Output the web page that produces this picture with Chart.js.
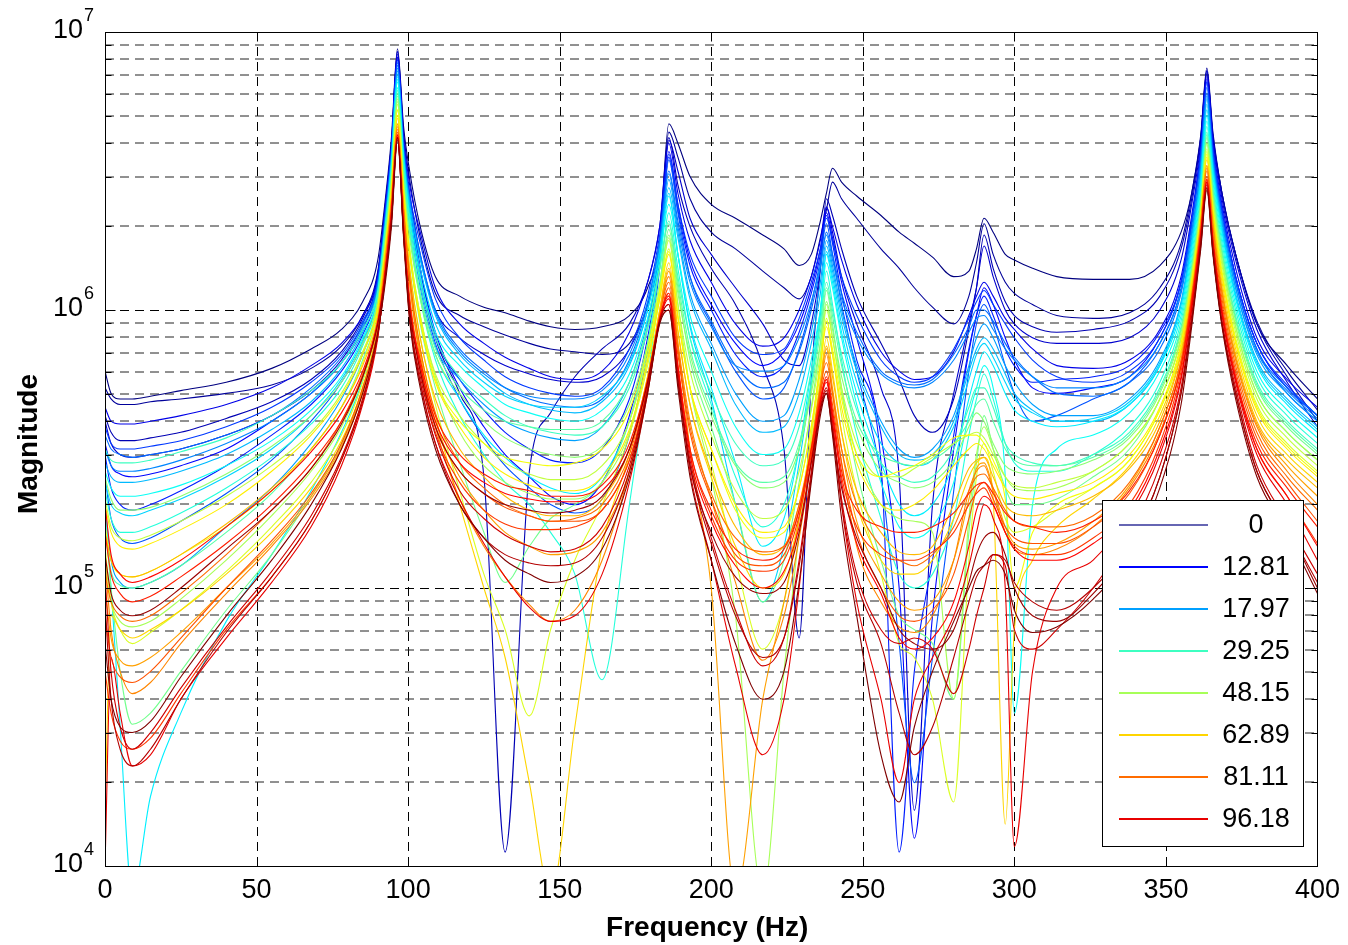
<!DOCTYPE html>
<html>
<head>
<meta charset="utf-8">
<script src="https://cdn.jsdelivr.net/npm/chart.js@4.4.1/dist/chart.umd.min.js"></script>
<style>
html,body{margin:0;padding:0;background:#fff;}
#wrap{position:relative;width:1348px;height:945px;}
</style>
</head>
<body>
<div id="wrap"><canvas id="c" width="1348" height="945"></canvas></div>
<script>
// ---------------- data ----------------
const freqHz = [0,2,5,9,15,25,40,55,68,78,85,90,
  92.5,94.5,96.5,98.5,100.5,104,109,
  117,125,132,140,147,155,164,173,179,183,
  186,189,193,200,
  208,217,224,229,233,236,
  238,240,243,248,256,
  262,267,273,280,285,287.5,
  290,293,297,300,306,
  314,326,338,348,355,358.5,361.5,
  363.5,365.5,368.5,373,380,390,400];

const xTickValues = [0,50,100,150,200,250,300,350,400];
const yDecadeExponents = [4,5,6,7];
const legendLabels = ['0','12.81','17.97','29.25','48.15','62.89','81.11','96.18'];
const legendCurveIndex = [0,5,11,17,21,26,30,35];

const log10Mag00 = [5.78,5.70,5.68,5.68,5.69,5.71,5.74,5.79,5.86,5.93,6.03,6.18, 6.40,6.62,6.94,6.66,6.50,6.30,6.12, 6.05,6.01,5.99,5.96,5.94,5.93,5.94,5.98,6.08,6.25, 6.67,6.60,6.48,6.38, 6.33,6.27,6.22,6.16,6.20,6.32, 6.42,6.51,6.46,6.41,6.34, 6.28,6.24,6.19,6.12,6.14,6.22, 6.33,6.28,6.20,6.18,6.15, 6.12,6.11,6.11,6.16,6.28,6.42,6.62, 6.85,6.62,6.42,6.20,5.95,5.80,5.68];
const log10Mag01 = [5.72,5.68,5.66,5.66,5.67,5.68,5.70,5.73,5.79,5.87,5.98,6.14, 6.38,6.60,6.93,6.64,6.47,6.26,6.06, 5.98,5.94,5.91,5.88,5.86,5.85,5.84,5.88,6.02,6.22, 6.64,6.55,6.40,6.28, 6.22,6.14,6.08,6.04,6.12,6.26, 6.36,6.46,6.40,6.33,6.22, 6.15,6.08,6.01,5.95,6.05,6.17, 6.31,6.20,6.10,6.06,6.02, 5.98,5.97,5.99,6.08,6.24,6.42,6.63, 6.87,6.64,6.42,6.20,5.96,5.78,5.64];
const log10Mag02 = [5.62,5.56,5.53,5.53,5.54,5.56,5.61,5.67,5.75,5.85,5.97,6.13, 6.37,6.58,6.92,6.60,6.40,6.15,5.90, 5.70,5.40,4.05,5.42,5.63,5.76,5.86,5.95,6.10,6.30, 6.62,6.45,6.30,6.15, 6.02,5.80,5.50,4.82,5.75,6.15, 6.40,6.34,6.22,6.05,5.88, 5.75,5.62,5.56,5.68,5.93,6.08, 6.27,6.15,6.03,5.98,5.94, 5.92,5.93,5.96,6.05,6.22,6.40,6.62, 6.86,6.63,6.42,6.20,5.95,5.76,5.60];
const log10Mag03 = [5.60,5.52,5.48,5.47,5.48,5.50,5.55,5.62,5.71,5.82,5.95,6.12, 6.36,6.58,6.91,6.60,6.42,6.20,6.00, 5.90,5.84,5.80,5.77,5.75,5.74,5.76,5.86,6.02,6.22, 6.61,6.50,6.33,6.20, 6.08,5.95,5.82,5.80,5.95,6.15, 6.37,6.28,6.12,5.95,5.72, 5.40,4.20,5.30,5.70,5.95,6.08, 6.23,6.12,6.00,5.95,5.90, 5.88,5.88,5.90,6.00,6.18,6.38,6.60, 6.86,6.62,6.40,6.18,5.93,5.74,5.58];
const log10Mag04 = [5.65,5.60,5.59,5.59,5.60,5.62,5.66,5.72,5.80,5.88,5.98,6.13, 6.38,6.60,6.93,6.62,6.45,6.28,6.08, 5.95,5.88,5.83,5.79,5.76,5.75,5.78,5.92,6.10,6.30, 6.60,6.42,6.25,6.10, 5.95,5.87,5.90,6.00,6.12,6.25, 6.37,6.30,6.18,6.02,5.85, 5.78,5.75,5.76,5.85,5.98,6.05, 6.10,6.05,5.97,5.93,5.86, 5.80,5.79,5.82,5.93,6.12,6.34,6.58, 6.84,6.60,6.38,6.15,5.90,5.75,5.65];
const log10Mag05 = [5.52,5.44,5.41,5.40,5.41,5.44,5.50,5.60,5.70,5.81,5.93,6.10, 6.35,6.57,6.91,6.58,6.38,6.15,5.92, 5.72,5.58,5.48,5.40,5.33,5.30,5.38,5.62,5.90,6.18, 6.57,6.38,6.18,6.02, 5.88,5.80,5.85,5.95,6.08,6.22, 6.35,6.26,6.10,5.90,5.55, 5.00,4.10,4.90,5.50,5.85,5.98, 6.08,6.02,5.90,5.82,5.72, 5.70,5.72,5.76,5.90,6.10,6.32,6.57, 6.83,6.58,6.36,6.12,5.88,5.72,5.62];
const log10Mag06 = [5.48,5.36,5.30,5.28,5.30,5.35,5.44,5.55,5.66,5.78,5.91,6.08, 6.33,6.56,6.90,6.57,6.36,6.12,5.90, 5.75,5.64,5.56,5.50,5.46,5.45,5.50,5.68,5.94,6.20, 6.55,6.36,6.16,6.00, 5.84,5.76,5.80,5.92,6.06,6.20, 6.34,6.24,6.06,5.82,5.45, 4.05,4.70,5.10,5.55,5.86,5.98, 6.05,5.98,5.86,5.80,5.74, 5.75,5.76,5.80,5.92,6.10,6.32,6.57, 6.82,6.58,6.36,6.12,5.88,5.72,5.62];
const log10Mag07 = [5.58,5.52,5.50,5.50,5.51,5.53,5.58,5.65,5.74,5.84,5.96,6.11, 6.36,6.58,6.90,6.60,6.42,6.24,6.04, 5.90,5.82,5.76,5.72,5.70,5.69,5.72,5.86,6.05,6.27, 6.56,6.38,6.20,6.05, 5.90,5.84,5.86,5.97,6.10,6.22, 6.33,6.25,6.12,5.98,5.82, 5.76,5.74,5.76,5.86,5.97,6.03, 6.07,6.02,5.95,5.90,5.82, 5.76,5.74,5.78,5.90,6.10,6.32,6.56, 6.82,6.58,6.36,6.12,5.88,5.73,5.62];
const log10Mag08 = [5.40,5.25,5.18,5.16,5.18,5.24,5.34,5.46,5.60,5.74,5.88,6.06, 6.32,6.55,6.89,6.56,6.35,6.10,5.88, 5.68,5.54,5.44,5.36,5.30,5.27,5.32,5.55,5.85,6.15, 6.54,6.35,6.12,5.95, 5.78,5.68,5.72,5.86,6.02,6.18, 6.31,6.20,6.02,5.78,5.40, 4.80,4.30,4.75,5.35,5.78,5.95, 6.02,5.95,5.80,5.70,5.60, 5.62,5.68,5.74,5.88,6.08,6.30,6.55, 6.80,6.56,6.34,6.10,5.86,5.70,5.60];
const log10Mag09 = [5.55,5.50,5.48,5.47,5.48,5.50,5.55,5.62,5.72,5.83,5.95,6.10, 6.34,6.56,6.88,6.58,6.40,6.20,6.00, 5.86,5.78,5.72,5.68,5.66,5.65,5.68,5.82,6.02,6.25, 6.50,6.32,6.12,5.96, 5.80,5.72,5.74,5.85,6.00,6.15, 6.28,6.20,6.06,5.92,5.78, 5.74,5.73,5.75,5.84,5.94,6.00, 6.00,5.96,5.88,5.83,5.76, 5.70,5.69,5.74,5.86,6.06,6.28,6.52, 6.78,6.55,6.33,6.10,5.86,5.72,5.62];
const log10Mag10 = [5.50,5.44,5.42,5.42,5.43,5.46,5.52,5.60,5.70,5.81,5.94,6.09, 6.33,6.55,6.87,6.57,6.39,6.19,5.99, 5.85,5.77,5.72,5.69,5.68,5.68,5.71,5.84,6.03,6.24, 6.49,6.30,6.10,5.94, 5.80,5.78,5.80,5.90,6.03,6.16, 6.27,6.18,6.04,5.90,5.77, 5.73,5.72,5.74,5.82,5.92,5.97, 5.98,5.93,5.86,5.82,5.76, 5.72,5.72,5.76,5.88,6.07,6.28,6.52, 6.77,6.54,6.32,6.08,5.85,5.71,5.61];
const log10Mag11 = [5.30,5.10,5.02,5.00,5.02,5.08,5.22,5.36,5.52,5.68,5.84,6.03, 6.30,6.52,6.86,6.54,6.33,6.08,5.87, 5.75,5.66,5.60,5.56,5.54,5.53,5.58,5.74,5.96,6.20, 6.47,6.28,6.06,5.88, 5.70,5.60,5.62,5.75,5.92,6.10, 6.25,6.16,6.00,5.80,5.60, 5.50,5.47,5.50,5.62,5.80,5.90, 5.95,5.90,5.80,5.74,5.66, 5.62,5.62,5.68,5.82,6.03,6.26,6.50, 6.76,6.53,6.32,6.08,5.84,5.70,5.60];
const log10Mag12 = [5.45,5.40,5.38,5.38,5.39,5.42,5.48,5.57,5.67,5.79,5.92,6.08, 6.32,6.54,6.85,6.56,6.38,6.18,5.98, 5.84,5.76,5.70,5.66,5.64,5.63,5.67,5.80,6.00,6.22, 6.44,6.26,6.04,5.86, 5.66,5.56,5.58,5.70,5.88,6.06, 6.23,6.14,5.98,5.78,5.58, 5.48,5.46,5.48,5.60,5.78,5.86, 5.90,5.86,5.77,5.70,5.64, 5.60,5.60,5.66,5.80,6.02,6.24,6.48, 6.74,6.52,6.30,6.06,5.82,5.68,5.58];
const log10Mag13 = [5.38,5.30,5.27,5.26,5.28,5.32,5.40,5.50,5.62,5.75,5.89,6.06, 6.31,6.53,6.84,6.55,6.36,6.15,5.95, 5.82,5.74,5.69,5.66,5.65,5.65,5.69,5.81,6.00,6.21, 6.42,6.20,5.94,5.68, 5.30,4.95,5.15,5.45,5.74,5.98, 6.21,6.12,5.95,5.74,5.52, 5.45,5.44,5.46,5.58,5.75,5.84, 5.88,5.83,5.74,5.68,5.63, 5.60,5.61,5.67,5.81,6.02,6.24,6.48, 6.72,6.51,6.29,6.05,5.81,5.67,5.57];
const log10Mag14 = [5.30,5.00,4.50,3.90,4.25,4.55,4.88,5.12,5.35,5.56,5.75,5.98, 6.26,6.50,6.83,6.52,6.30,6.05,5.84, 5.68,5.55,5.47,5.40,5.36,5.34,5.40,5.60,5.88,6.16, 6.41,6.20,5.95,5.72, 5.45,5.15,5.25,5.50,5.78,6.00, 6.20,6.10,5.92,5.70,5.45, 5.30,5.26,5.30,5.45,5.68,5.78, 5.85,5.80,5.70,5.64,5.60, 5.58,5.60,5.66,5.80,6.00,6.22,6.46, 6.70,6.50,6.28,6.04,5.80,5.66,5.56];
const log10Mag15 = [5.42,5.36,5.33,5.33,5.34,5.37,5.44,5.53,5.64,5.76,5.90,6.06, 6.30,6.52,6.82,6.54,6.34,6.12,5.92, 5.80,5.72,5.66,5.63,5.61,5.60,5.64,5.77,5.97,6.18, 6.38,6.20,5.98,5.78, 5.58,5.48,5.50,5.63,5.82,6.00, 6.17,6.08,5.90,5.66,5.38, 5.22,5.18,5.22,5.38,5.62,5.72, 5.80,5.72,5.40,4.55,5.30, 5.50,5.55,5.63,5.78,5.98,6.20,6.44, 6.68,6.48,6.26,6.02,5.78,5.64,5.54];
const log10Mag16 = [5.35,5.25,5.20,5.20,5.22,5.27,5.36,5.47,5.59,5.72,5.87,6.04, 6.28,6.50,6.80,6.50,6.28,6.04,5.82, 5.62,5.48,5.38,5.30,5.20,5.05,4.67,5.30,5.75,6.08, 6.35,6.15,5.90,5.66, 5.40,5.22,5.30,5.50,5.74,5.95, 6.14,6.02,5.82,5.55,5.25, 5.05,5.00,5.05,5.25,5.55,5.68, 5.77,5.68,5.52,5.45,5.42, 5.42,5.48,5.58,5.74,5.96,6.18,6.42, 6.66,6.46,6.24,6.00,5.76,5.62,5.52];
const log10Mag17 = [5.50,5.46,5.45,5.45,5.46,5.49,5.54,5.62,5.71,5.81,5.93,6.07, 6.30,6.50,6.79,6.52,6.32,6.10,5.90, 5.76,5.68,5.62,5.58,5.56,5.55,5.58,5.72,5.93,6.15, 6.32,6.12,5.90,5.70, 5.52,5.44,5.46,5.58,5.78,5.96, 6.10,6.00,5.84,5.64,5.45, 5.40,5.38,5.40,5.50,5.65,5.72, 5.72,5.65,5.52,5.48,5.45, 5.44,5.48,5.56,5.72,5.94,6.16,6.40, 6.64,6.44,6.22,5.98,5.74,5.60,5.50];
const log10Mag18 = [5.20,5.06,5.01,5.00,5.02,5.08,5.20,5.34,5.50,5.65,5.82,6.01, 6.27,6.48,6.78,6.48,6.28,6.06,5.86, 5.72,5.64,5.60,5.58,5.57,5.57,5.60,5.74,5.94,6.15, 6.31,6.10,5.86,5.64, 5.45,5.38,5.40,5.52,5.72,5.92, 6.08,5.98,5.80,5.60,5.48, 5.45,5.44,5.46,5.52,5.60,5.66, 5.68,5.60,5.50,5.46,5.44, 5.44,5.47,5.55,5.71,5.93,6.15,6.39, 6.63,6.43,6.21,5.97,5.73,5.59,5.49];
const log10Mag19 = [5.25,5.00,4.70,4.51,4.55,4.70,4.92,5.12,5.33,5.52,5.72,5.95, 6.22,6.46,6.77,6.45,6.20,5.95,5.72, 5.45,5.20,5.02,5.15,5.25,5.30,5.38,5.60,5.86,6.08, 6.29,6.08,5.82,5.58, 5.30,4.95,5.10,5.38,5.65,5.88, 6.07,5.95,5.72,5.42,5.10, 4.90,4.85,4.80,4.60,5.20,5.45, 5.62,5.50,5.36,5.30,5.30, 5.32,5.40,5.50,5.68,5.90,6.12,6.36, 6.62,6.42,6.20,5.96,5.72,5.58,5.48];
const log10Mag20 = [5.40,5.32,5.28,5.28,5.29,5.33,5.41,5.51,5.62,5.74,5.88,6.04, 6.26,6.47,6.75,6.47,6.26,6.04,5.84, 5.70,5.60,5.54,5.50,5.48,5.47,5.51,5.66,5.88,6.10, 6.27,6.06,5.84,5.62, 5.44,5.36,5.38,5.50,5.70,5.88, 6.03,5.93,5.76,5.58,5.42, 5.38,5.36,5.38,5.46,5.58,5.63, 5.60,5.52,5.44,5.42,5.41, 5.42,5.46,5.54,5.70,5.92,6.14,6.38, 6.60,6.40,6.18,5.94,5.70,5.56,5.46];
const log10Mag21 = [5.10,4.95,4.88,4.86,4.88,4.96,5.10,5.26,5.42,5.58,5.76,5.97, 6.23,6.45,6.76,6.45,6.22,5.98,5.76, 5.56,5.44,5.38,5.34,5.32,5.32,5.38,5.56,5.82,6.06, 6.26,6.02,5.72,5.40, 4.90,3.90,4.70,5.20,5.55,5.82, 6.02,5.90,5.70,5.48,5.30, 5.25,5.24,5.20,4.60,5.25,5.48, 5.58,5.50,5.40,5.36,5.35, 5.36,5.42,5.52,5.68,5.90,6.12,6.37, 6.60,6.40,6.18,5.94,5.70,5.56,5.46];
const log10Mag22 = [5.32,5.22,5.18,5.17,5.19,5.24,5.33,5.44,5.56,5.70,5.85,6.02, 6.24,6.45,6.74,6.44,6.22,5.98,5.77, 5.62,5.52,5.45,5.41,5.39,5.39,5.44,5.60,5.84,6.07, 6.25,6.02,5.78,5.55, 5.35,5.25,5.28,5.42,5.64,5.84, 6.00,5.90,5.72,5.52,5.40, 5.40,5.43,5.47,5.52,5.55,5.56, 5.54,5.48,5.40,5.37,5.36, 5.38,5.42,5.52,5.68,5.90,6.12,6.36, 6.58,6.38,6.16,5.92,5.68,5.54,5.44];
const log10Mag23 = [5.15,4.95,4.85,4.80,4.84,4.92,5.06,5.22,5.38,5.55,5.74,5.96, 6.20,6.42,6.72,6.40,6.15,5.90,5.66, 5.35,5.05,4.85,4.54,4.85,5.10,5.30,5.55,5.80,6.04, 6.22,5.98,5.72,5.45, 5.10,4.78,4.95,5.25,5.55,5.78, 5.97,5.84,5.62,5.35,5.05, 4.80,4.75,4.60,4.23,5.10,5.40, 5.52,5.42,5.25,5.20,5.22, 5.28,5.36,5.46,5.64,5.86,6.08,6.34, 6.57,6.37,6.14,5.90,5.66,5.52,5.42];
const log10Mag24 = [5.22,5.10,5.05,5.04,5.06,5.12,5.22,5.35,5.50,5.65,5.81,6.00, 6.22,6.44,6.72,6.43,6.21,5.97,5.75, 5.60,5.52,5.47,5.45,5.44,5.45,5.50,5.64,5.86,6.07, 6.21,5.98,5.72,5.50, 5.28,5.18,5.20,5.36,5.58,5.80, 5.96,5.86,5.68,5.48,5.40, 5.42,5.44,5.48,5.54,5.55,5.55, 5.52,5.46,5.32,5.00,5.20, 5.30,5.36,5.46,5.64,5.87,6.10,6.34, 6.56,6.36,6.13,5.89,5.65,5.51,5.41];
const log10Mag25 = [5.30,5.20,5.15,5.14,5.16,5.21,5.30,5.42,5.55,5.69,5.84,6.01, 6.22,6.43,6.70,6.42,6.20,5.96,5.74, 5.58,5.47,5.41,5.37,5.35,5.35,5.40,5.57,5.82,6.04, 6.20,5.97,5.72,5.50, 5.30,5.20,5.22,5.36,5.58,5.80, 5.94,5.84,5.65,5.45,5.30, 5.28,5.30,5.35,5.44,5.50,5.52, 5.50,5.44,5.36,5.33,5.32, 5.34,5.38,5.48,5.65,5.88,6.10,6.34, 6.55,6.35,6.12,5.88,5.64,5.50,5.40];
const log10Mag26 = [4.20,4.90,4.85,4.82,4.85,4.92,5.05,5.20,5.36,5.53,5.72,5.94, 6.18,6.40,6.69,6.38,6.12,5.86,5.62, 5.30,5.00,4.75,4.30,3.90,4.50,5.15,5.48,5.76,6.00, 6.17,5.93,5.66,5.40, 5.15,5.00,5.05,5.25,5.50,5.74, 5.90,5.78,5.56,5.30,5.10, 5.05,5.05,5.10,5.25,5.40,5.45, 5.47,5.32,4.15,4.85,5.10, 5.22,5.32,5.44,5.62,5.85,6.08,6.32, 6.54,6.34,6.10,5.86,5.62,5.48,5.38];
const log10Mag27 = [5.20,5.10,5.05,5.04,5.06,5.12,5.23,5.36,5.50,5.65,5.80,5.98, 6.20,6.40,6.67,6.38,6.15,5.90,5.68, 5.50,5.40,5.33,5.28,5.26,5.26,5.32,5.50,5.76,6.00, 6.15,5.92,5.66,5.42, 5.22,5.12,5.15,5.30,5.52,5.74, 5.87,5.76,5.56,5.35,5.20, 5.13,5.12,5.15,5.30,5.43,5.46, 5.47,5.40,5.30,5.27,5.26, 5.28,5.33,5.43,5.60,5.84,6.06,6.32, 6.52,6.32,6.08,5.84,5.60,5.46,5.36];
const log10Mag28 = [5.00,4.82,4.74,4.72,4.75,4.84,5.00,5.16,5.33,5.51,5.71,5.93, 6.18,6.39,6.67,6.36,6.10,5.84,5.60, 5.40,5.28,5.20,5.15,5.12,5.13,5.20,5.42,5.72,5.98, 6.14,5.88,5.50,5.00, 3.90,4.60,4.95,5.25,5.50,5.72, 5.86,5.72,5.50,5.24,5.05, 4.95,4.92,4.95,5.10,5.32,5.43, 5.45,5.36,5.22,5.16,5.14, 5.16,5.24,5.37,5.58,5.82,6.05,6.31, 6.52,6.31,6.07,5.83,5.59,5.44,5.33];
const log10Mag29 = [5.10,4.85,4.70,4.62,4.66,4.80,4.98,5.15,5.32,5.50,5.70,5.92, 6.16,6.38,6.66,6.35,6.10,5.82,5.58, 5.32,5.15,5.04,4.94,4.88,4.92,5.10,5.42,5.72,5.98, 6.12,5.88,5.60,5.32, 5.02,4.74,4.90,5.18,5.46,5.70, 5.84,5.70,5.45,5.15,4.95, 4.86,4.84,4.90,5.10,5.35,5.42, 5.44,5.35,5.20,5.14,5.12, 5.14,5.22,5.36,5.56,5.80,6.04,6.30, 6.51,6.30,6.06,5.82,5.58,5.42,5.30];
const log10Mag30 = [5.05,4.95,4.90,4.88,4.90,4.98,5.12,5.28,5.43,5.60,5.77,5.96, 6.17,6.38,6.65,6.36,6.12,5.86,5.63, 5.45,5.36,5.30,5.26,5.24,5.25,5.30,5.48,5.74,5.98, 6.10,5.86,5.58,5.34, 5.18,5.13,5.15,5.30,5.50,5.72, 5.81,5.70,5.50,5.30,5.15, 5.10,5.08,5.12,5.22,5.35,5.40, 5.41,5.36,5.28,5.24,5.22, 5.22,5.26,5.38,5.58,5.82,6.05,6.30, 6.50,6.28,6.04,5.80,5.56,5.40,5.28];
const log10Mag31 = [4.90,4.75,4.68,4.66,4.70,4.82,5.00,5.17,5.34,5.52,5.72,5.93, 6.15,6.36,6.64,6.32,6.05,5.80,5.58, 5.42,5.34,5.29,5.26,5.24,5.24,5.28,5.46,5.72,5.96, 6.08,5.84,5.56,5.32, 5.12,5.08,5.12,5.28,5.50,5.70, 5.78,5.66,5.45,5.20,5.00, 4.90,4.88,4.92,5.05,5.25,5.35, 5.38,5.32,5.22,5.18,5.16, 5.16,5.22,5.34,5.55,5.80,6.04,6.28, 6.48,6.26,6.02,5.78,5.54,5.38,5.24];
const log10Mag32 = [4.70,4.55,4.45,4.42,4.46,4.62,4.85,5.04,5.24,5.46,5.68,5.91, 6.14,6.35,6.63,6.30,6.02,5.78,5.56, 5.38,5.28,5.23,5.21,5.21,5.22,5.28,5.46,5.72,5.96, 6.06,5.80,5.50,5.26, 5.10,5.06,5.10,5.26,5.48,5.68, 5.75,5.62,5.40,5.22,5.12, 5.10,5.10,5.13,5.20,5.30,5.34, 5.36,5.30,5.20,5.15,5.12, 5.12,5.18,5.30,5.52,5.78,6.02,6.27, 6.47,6.25,6.00,5.76,5.50,5.33,5.16];
const log10Mag33 = [5.20,5.05,4.98,4.95,4.97,5.04,5.16,5.30,5.45,5.60,5.76,5.95, 6.14,6.35,6.63,6.30,6.02,5.82,5.62, 5.48,5.41,5.37,5.35,5.33,5.33,5.37,5.52,5.75,5.97, 6.06,5.80,5.50,5.28, 5.14,5.10,5.14,5.28,5.50,5.68, 5.76,5.64,5.42,5.28,5.22, 5.20,5.20,5.22,5.27,5.34,5.37, 5.38,5.34,5.27,5.24,5.22, 5.20,5.24,5.35,5.55,5.80,6.03,6.28, 6.47,6.25,6.00,5.76,5.52,5.36,5.22];
const log10Mag34 = [5.30,5.12,5.05,5.02,5.04,5.10,5.22,5.35,5.49,5.63,5.78,5.96, 6.14,6.35,6.63,6.30,6.02,5.80,5.60, 5.45,5.38,5.34,5.32,5.31,5.31,5.35,5.50,5.74,5.97, 6.05,5.79,5.48,5.24, 5.08,5.00,5.06,5.22,5.46,5.67, 5.75,5.62,5.38,5.16,4.98, 4.82,4.78,4.82,4.95,5.15,5.28, 5.33,5.30,5.20,5.14,5.10, 5.10,5.16,5.28,5.50,5.76,6.01,6.27, 6.46,6.24,5.99,5.75,5.50,5.33,5.15];
const log10Mag35 = [4.00,4.75,4.55,4.36,4.40,4.60,4.82,5.02,5.22,5.44,5.66,5.90, 6.14,6.34,6.62,6.28,5.98,5.74,5.52, 5.32,5.16,5.04,4.93,4.88,4.90,5.05,5.38,5.70,5.96, 6.04,5.78,5.42,5.10, 4.72,4.40,4.60,5.00,5.40,5.66, 5.74,5.60,5.30,4.95,4.60, 4.30,4.60,4.75,4.90,5.08,5.20, 5.30,5.25,5.00,4.07,4.70, 5.00,5.10,5.26,5.48,5.75,6.00,6.26, 6.46,6.24,5.98,5.74,5.48,5.30,5.10];
const log10Mag36 = [5.05,4.70,4.50,4.42,4.48,4.64,4.86,5.06,5.26,5.47,5.68,5.91, 6.12,6.32,6.62,6.28,5.98,5.76,5.55, 5.35,5.25,5.19,5.15,5.13,5.14,5.22,5.44,5.72,5.96, 6.02,5.76,5.46,5.18, 4.92,4.72,4.82,5.10,5.42,5.65, 5.72,5.58,5.32,5.05,4.85, 4.80,4.82,4.78,4.62,4.78,4.90, 5.00,5.12,5.08,4.85,4.78, 4.85,5.00,5.20,5.44,5.72,5.98,6.25, 6.45,6.22,5.96,5.72,5.44,5.24,5.05];
const log10Mag37 = [4.95,4.60,4.42,4.36,4.42,4.60,4.84,5.04,5.24,5.46,5.67,5.91, 6.12,6.32,6.62,6.27,5.97,5.74,5.52, 5.30,5.18,5.12,5.09,5.08,5.09,5.18,5.42,5.71,5.96, 6.02,5.75,5.44,5.16, 4.90,4.75,4.82,5.08,5.40,5.64, 5.71,5.57,5.30,5.02,4.80, 4.55,4.40,4.50,4.75,4.95,5.04, 5.08,5.12,5.10,5.02,4.95, 4.92,5.00,5.16,5.40,5.70,5.96,6.23, 6.44,6.21,5.95,5.70,5.42,5.22,5.02];
const log10Mag38 = [5.12,4.98,4.92,4.90,4.92,5.00,5.14,5.28,5.43,5.59,5.76,5.95, 6.12,6.32,6.62,6.27,6.00,5.78,5.58, 5.42,5.34,5.30,5.28,5.27,5.28,5.33,5.50,5.74,5.96, 6.00,5.74,5.44,5.20, 5.04,4.98,5.02,5.20,5.45,5.64, 5.70,5.56,5.36,5.18,5.00, 4.85,4.80,4.78,4.85,5.02,5.12, 5.18,5.20,5.12,5.00,4.90, 4.88,4.98,5.15,5.40,5.70,5.96,6.24, 6.44,6.21,5.95,5.70,5.42,5.22,5.00];
const log10Mag39 = [4.80,4.60,4.50,4.48,4.52,4.68,4.90,5.10,5.30,5.50,5.70,5.92, 6.10,6.30,6.61,6.26,5.96,5.72,5.50, 5.30,5.18,5.10,5.05,5.02,5.04,5.14,5.40,5.70,5.95, 6.00,5.72,5.40,5.10, 4.80,4.60,4.70,5.02,5.38,5.62, 5.70,5.55,5.25,4.90,4.40, 4.23,4.50,4.70,4.88,5.00,5.06, 5.08,5.10,5.05,4.92,4.84, 4.86,4.96,5.12,5.36,5.66,5.94,6.22, 6.43,6.20,5.94,5.68,5.40,5.20,4.98];

const curves = [log10Mag00,log10Mag01,log10Mag02,log10Mag03,log10Mag04,log10Mag05,log10Mag06,log10Mag07,
  log10Mag08,log10Mag09,log10Mag10,log10Mag11,log10Mag12,log10Mag13,log10Mag14,log10Mag15,
  log10Mag16,log10Mag17,log10Mag18,log10Mag19,log10Mag20,log10Mag21,log10Mag22,log10Mag23,
  log10Mag24,log10Mag25,log10Mag26,log10Mag27,log10Mag28,log10Mag29,log10Mag30,log10Mag31,
  log10Mag32,log10Mag33,log10Mag34,log10Mag35,log10Mag36,log10Mag37,log10Mag38,log10Mag39];

// ---------------- style ----------------
const FONT = '"Liberation Sans", Arial, Helvetica, sans-serif';
function jetColor(t) {
  const c = v => Math.max(0, Math.min(1, v));
  const r = c(1.5 - Math.abs(4 * t - 3)), g = c(1.5 - Math.abs(4 * t - 2)), b = c(1.5 - Math.abs(4 * t - 1));
  return `rgb(${Math.round(r * 255)},${Math.round(g * 255)},${Math.round(b * 255)})`;
}
const curveColor = i => jetColor(i / (curves.length - 1));

curves.forEach((arr, i) => {
  if (arr.length !== freqHz.length) throw new Error('curve ' + i + ' has ' + arr.length + ' values, expected ' + freqHz.length);
});

const datasets = curves.map((arr, i) => ({
  label: 'curve ' + i,
  data: arr.map((v, k) => ({ x: freqHz[k], y: Math.pow(10, v) })),
  borderColor: curveColor(i),
  borderWidth: 1.1,
  pointRadius: 0,
  cubicInterpolationMode: 'monotone',
  fill: false,
  order: curves.length - 1 - i
}));

function yGridValues() {
  const out = [];
  const last = yDecadeExponents[yDecadeExponents.length - 1];
  for (let e = yDecadeExponents[0]; e < last; e++) {
    for (let k = 1; k <= 9; k++) out.push({ v: k * Math.pow(10, e), major: k === 1 });
  }
  out.push({ v: Math.pow(10, last), major: true });
  return out;
}

const matlabFrame = {
  id: 'matlabFrame',
  beforeDatasetsDraw(chart) {
    const { ctx, chartArea: a, scales: { x, y } } = chart;
    ctx.save();
    ctx.lineWidth = 1;
    ctx.setLineDash([9, 6]);
    ctx.strokeStyle = '#000';
    for (const v of xTickValues) {
      const px = Math.round(x.getPixelForValue(v)) + 0.5;
      ctx.beginPath(); ctx.moveTo(px, a.top); ctx.lineTo(px, a.bottom); ctx.stroke();
    }
    for (const g of yGridValues()) {
      const py = y.getPixelForValue(g.v);
      const yy = g.major ? Math.round(py) + 0.5 : Math.round(py);
      ctx.strokeStyle = g.major ? '#000' : '#222';
      ctx.beginPath(); ctx.moveTo(a.left, yy); ctx.lineTo(a.right, yy); ctx.stroke();
    }
    ctx.restore();
  },
  afterDatasetsDraw(chart) {
    const { ctx, chartArea: a, scales: { x, y } } = chart;
    ctx.save();
    ctx.setLineDash([]);
    ctx.strokeStyle = '#000';
    ctx.lineWidth = 1;
    const L = Math.round(a.left) + 0.5, R = Math.round(a.right) + 0.5, T = Math.round(a.top) + 0.5, B = Math.round(a.bottom) + 0.5;
    ctx.strokeRect(L, T, R - L, B - T);
    ctx.beginPath();
    for (const v of xTickValues) {
      const px = Math.round(x.getPixelForValue(v)) + 0.5;
      ctx.moveTo(px, B); ctx.lineTo(px, B - 9);
      ctx.moveTo(px, T); ctx.lineTo(px, T + 9);
    }
    for (const g of yGridValues()) {
      const py = Math.round(y.getPixelForValue(g.v)) + 0.5;
      const len = g.major ? 10 : 6;
      ctx.moveTo(L, py); ctx.lineTo(L + len, py);
      ctx.moveTo(R, py); ctx.lineTo(R - len, py);
    }
    ctx.stroke();

    // y tick labels 10^n
    ctx.fillStyle = '#000';
    for (const e of yDecadeExponents) {
      const py = y.getPixelForValue(Math.pow(10, e));
      ctx.font = '27px ' + FONT;
      ctx.textAlign = 'right'; ctx.textBaseline = 'middle';
      ctx.fillText('10', a.left - 22, py - 1);
      ctx.font = '18px ' + FONT;
      ctx.textAlign = 'left'; ctx.textBaseline = 'alphabetic';
      ctx.fillText(String(e), a.left - 21, py - 11);
    }

    // axis titles
    ctx.font = 'bold 28px ' + FONT;
    ctx.textAlign = 'center'; ctx.textBaseline = 'middle';
    ctx.fillText('Frequency (Hz)', (a.left + a.right) / 2 - 4, 928);
    ctx.save();
    ctx.translate(29, (a.top + a.bottom) / 2 - 5);
    ctx.rotate(-Math.PI / 2);
    ctx.fillText('Magnitude', 0, 0);
    ctx.restore();

    // legend
    const bx = 1102.5, by = 500.5, bw = 201, bh = 346;
    ctx.fillStyle = '#fff';
    ctx.fillRect(bx, by, bw, bh);
    ctx.strokeStyle = '#000';
    ctx.strokeRect(bx, by, bw, bh);
    ctx.font = '27px ' + FONT;
    legendLabels.forEach((lab, k) => {
      const ly = 525 + k * 42;
      ctx.strokeStyle = curveColor(legendCurveIndex[k]);
      ctx.lineWidth = 2;
      ctx.globalAlpha = k === 0 ? 0.6 : 1;
      ctx.beginPath(); ctx.moveTo(1119, ly); ctx.lineTo(1208, ly); ctx.stroke();
      ctx.globalAlpha = 1;
      ctx.fillStyle = '#000';
      ctx.textAlign = 'center'; ctx.textBaseline = 'middle';
      ctx.fillText(lab, 1256, ly + 1);
    });
    ctx.restore();
  }
};

Chart.defaults.font.family = FONT;
new Chart(document.getElementById('c'), {
  type: 'line',
  data: { datasets },
  options: {
    responsive: false,
    devicePixelRatio: 1,
    animation: false,
    events: [],
    layout: { padding: { top: 32, right: 26, left: 0, bottom: 0 } },
    plugins: { legend: { display: false }, tooltip: { enabled: false } },
    scales: {
      x: {
        type: 'linear', min: 0, max: 400,
        afterBuildTicks: s => { s.ticks = xTickValues.map(v => ({ value: v })); },
        afterFit: s => { s.height = 79; },
        grid: { display: false, drawTicks: false },
        border: { display: false },
        ticks: { color: '#000', font: { size: 27 }, padding: 8, maxRotation: 0, autoSkip: false }
      },
      y: {
        type: 'logarithmic', min: 1e4, max: 1e7,
        afterFit: s => { s.width = 105; },
        grid: { display: false, drawTicks: false },
        border: { display: false },
        ticks: { display: false }
      }
    }
  },
  plugins: [matlabFrame]
});
</script>
</body>
</html>
